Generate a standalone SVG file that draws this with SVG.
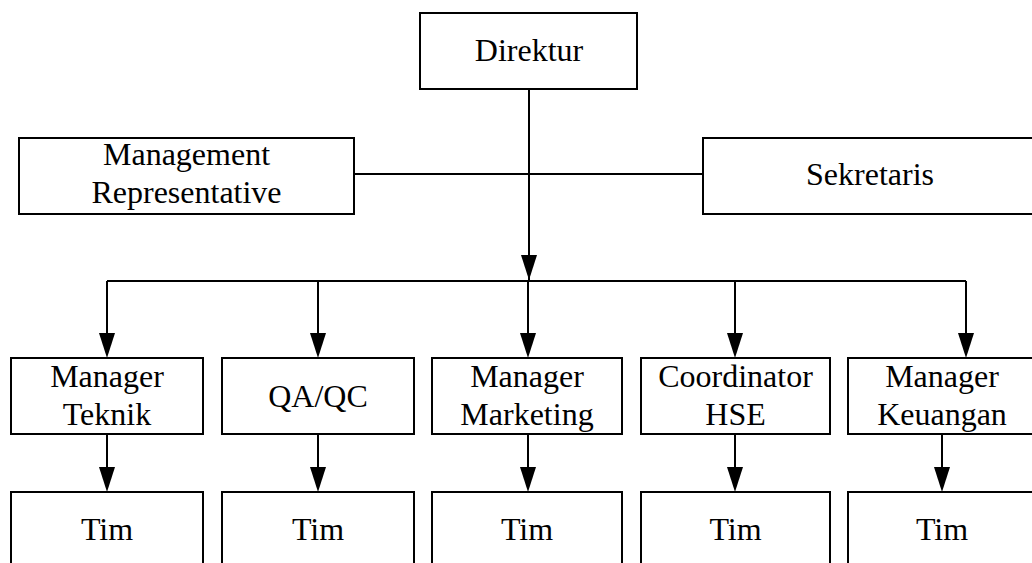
<svg xmlns="http://www.w3.org/2000/svg" width="1032" height="563" viewBox="0 0 1032 563">
<style>
.box{fill:#fff;stroke:#000;stroke-width:2}
.t{font-family:"Liberation Serif","Times New Roman",serif;font-size:32px;fill:#000;text-anchor:middle}
.ln{fill:none;stroke:#000;stroke-width:2}
.ah{fill:#000}
</style>
<rect width="1032" height="563" fill="#fff"/>
<g id="connectors">
<line class="ln" x1="354" y1="174" x2="703" y2="174"/>
<path class="ln" d="M529,89 V280"/>
<path class="ah" d="M521,255 L537,255 L529,280 Z"/>
<path class="ln" d="M107,281 H966"/>
<path class="ln" d="M107,281 V333"/><path class="ah" d="M99,333 L115,333 L107,358 Z"/>
<path class="ln" d="M318,281 V333"/><path class="ah" d="M310,333 L326,333 L318,358 Z"/>
<path class="ln" d="M528,281 V333"/><path class="ah" d="M520,333 L536,333 L528,358 Z"/>
<path class="ln" d="M735,281 V333"/><path class="ah" d="M727,333 L743,333 L735,358 Z"/>
<path class="ln" d="M966,281 V333"/><path class="ah" d="M958,333 L974,333 L966,358 Z"/>
<path class="ln" d="M107,434 V467"/><path class="ah" d="M99,467 L115,467 L107,492 Z"/>
<path class="ln" d="M318,434 V467"/><path class="ah" d="M310,467 L326,467 L318,492 Z"/>
<path class="ln" d="M528,434 V467"/><path class="ah" d="M520,467 L536,467 L528,492 Z"/>
<path class="ln" d="M735,434 V467"/><path class="ah" d="M727,467 L743,467 L735,492 Z"/>
<path class="ln" d="M942,434 V467"/><path class="ah" d="M934,467 L950,467 L942,492 Z"/>
</g>
<g id="direktur"><rect class="box" x="420" y="13" width="217" height="76"/><text class="t" x="529" y="61">Direktur</text></g>
<g id="mr"><rect class="box" x="19" y="138" width="335" height="76"/><text class="t" x="186.5" y="165">Management</text><text class="t" x="186.5" y="203">Representative</text></g>
<g id="sekretaris"><rect class="box" x="703" y="138" width="334" height="76"/><text class="t" x="870" y="185">Sekretaris</text></g>
<g id="mteknik"><rect class="box" x="11" y="358" width="192" height="76"/><text class="t" x="107" y="387">Manager</text><text class="t" x="107" y="425">Teknik</text></g>
<g id="qaqc"><rect class="box" x="222" y="358" width="192" height="76"/><text class="t" x="318" y="407">QA/QC</text></g>
<g id="mmarketing"><rect class="box" x="432" y="358" width="190" height="76"/><text class="t" x="527" y="387">Manager</text><text class="t" x="527" y="425">Marketing</text></g>
<g id="chse"><rect class="box" x="641" y="358" width="189" height="76"/><text class="t" x="735.5" y="387">Coordinator</text><text class="t" x="735.5" y="425">HSE</text></g>
<g id="mkeuangan"><rect class="box" x="848" y="358" width="188" height="76"/><text class="t" x="942" y="387">Manager</text><text class="t" x="942" y="425">Keuangan</text></g>
<g id="tim1"><rect class="box" x="11" y="492" width="192" height="80"/><text class="t" x="107" y="540">Tim</text></g>
<g id="tim2"><rect class="box" x="222" y="492" width="192" height="80"/><text class="t" x="318" y="540">Tim</text></g>
<g id="tim3"><rect class="box" x="432" y="492" width="190" height="80"/><text class="t" x="527" y="540">Tim</text></g>
<g id="tim4"><rect class="box" x="641" y="492" width="189" height="80"/><text class="t" x="735.5" y="540">Tim</text></g>
<g id="tim5"><rect class="box" x="848" y="492" width="188" height="80"/><text class="t" x="942" y="540">Tim</text></g>
</svg>
